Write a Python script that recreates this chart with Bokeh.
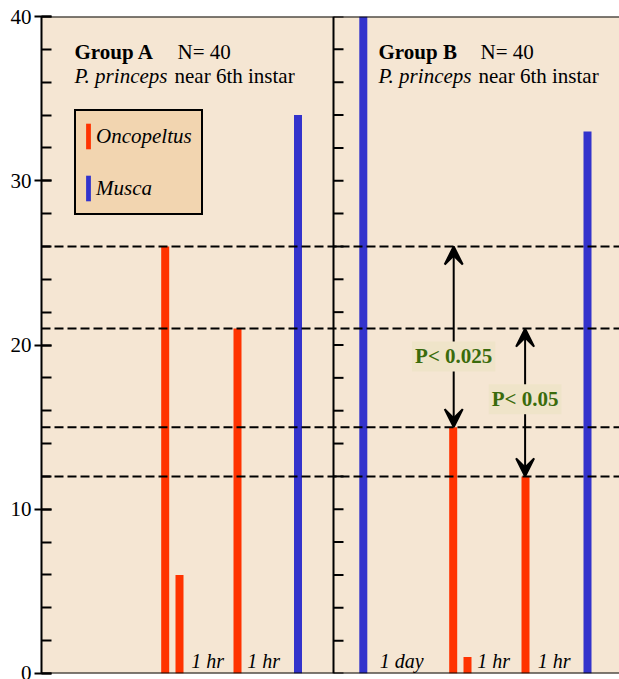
from bokeh.plotting import figure
from bokeh.models import (Range1d, Span, SingleIntervalTicker, Label, Arrow, VeeHead,
                          Legend, LegendItem)
from bokeh.core.properties import value
from bokeh.embed import file_html
from bokeh.resources import INLINE

# ---- data ----
oncopeltus_counts = [26, 6, 21, 15, 1, 12]
musca_counts = [34, 40, 33]
threshold_levels = [26, 21, 15, 12]
p_labels = ["P< 0.025", "P< 0.05"]
p_from = [15, 12]
p_to = [26, 21]
interval_labels = ["1 hr", "1 hr", "1 day", "1 hr", "1 hr"]
group_titles = ["Group A", "Group B"]
group_n = ["N= 40", "N= 40"]
species = ["P. princeps", "P. princeps"]
stage = ["near 6th instar", "near 6th instar"]

# ---- layout positions (horizontal slots, frame units) ----
oncopeltus_x = [123.7, 138, 196, 411.7, 426, 484]
musca_x = [256.5, 321.8, 546]
divider_x = 292
interval_x = [149.7, 205.7, 338.3, 435.7, 496.3]
title_x = [33, 337]
n_x = [136, 439]
stage_x = [133, 437]
p_x = [412.2, 483.6]
p_label_y = [19.3, 16.7]

BG = "#f5e6d3"
RED = "#ff3300"
BLUE = "#3333cc"
SERIF = value("Liberation Serif")

p = figure(width=619, height=679, x_range=Range1d(0, 578), y_range=Range1d(0, 40),
           output_backend="svg", toolbar_location=None,
           min_border_left=41, min_border_right=0, min_border_top=16, min_border_bottom=6,
           background_fill_color=BG, border_fill_color="white", outline_line_color=None)
p.xaxis.visible = False
p.grid.visible = False

ya = p.yaxis[0]
ya.ticker = SingleIntervalTicker(interval=10, num_minor_ticks=5)
ya.axis_line_width = 2
ya.major_tick_line_width = 2
ya.minor_tick_line_width = 2
ya.major_tick_in = 10
ya.major_tick_out = 7
ya.minor_tick_in = 10
ya.minor_tick_out = 0
ya.major_label_standoff = 3
ya.major_label_text_font = "Liberation Serif"
ya.major_label_text_font_size = "21px"
ya.major_label_text_color = "black"

# dashed threshold lines
for lvl in threshold_levels:
    p.add_layout(Span(location=lvl, dimension="width", line_color="black",
                      line_width=2, line_dash="9 4"))
# top & bottom border
p.add_layout(Span(location=40, dimension="width", line_color="black", line_width=2))
p.add_layout(Span(location=0, dimension="width", line_color="black", line_width=2))

# bars
red = p.vbar(x=oncopeltus_x, top=oncopeltus_counts, bottom=0, width=8,
             fill_color=RED, line_color=None)
blue = p.vbar(x=musca_x, top=musca_counts, bottom=0, width=8,
              fill_color=BLUE, line_color=None)

# middle divider axis with ticks
tick_vals = list(range(0, 41, 2))
p.segment(x0=[divider_x], y0=[0], x1=[divider_x], y1=[40], line_color="black", line_width=2)
p.segment(x0=[divider_x] * len(tick_vals), y0=tick_vals,
          x1=[divider_x + 10] * len(tick_vals), y1=tick_vals,
          line_color="black", line_width=2)

# group titles
p.text(x=title_x, y=[37.83] * 2, text=group_titles, text_font=SERIF,
       text_font_style="bold", text_font_size="21px", text_baseline="alphabetic",
       text_color="black")
p.text(x=n_x, y=[37.83] * 2, text=group_n, text_font=SERIF,
       text_font_size="21px", text_baseline="alphabetic", text_color="black")
p.text(x=title_x, y=[36.35] * 2, text=species, text_font=SERIF,
       text_font_style="italic", text_font_size="21px", text_baseline="alphabetic",
       text_color="black")
p.text(x=stage_x, y=[36.35] * 2, text=stage, text_font=SERIF,
       text_font_size="21px", text_baseline="alphabetic", text_color="black")

# interval labels
p.text(x=interval_x, y=[0.75] * len(interval_x), text=interval_labels, text_font=SERIF,
       text_font_style="italic", text_font_size="20px", text_baseline="alphabetic",
       text_color="black")

# significance arrows
for xa, y0, y1 in zip(p_x, p_from, p_to):
    p.add_layout(Arrow(x_start=xa, y_start=y0, x_end=xa, y_end=y1,
                       line_color="black", line_width=2,
                       start=VeeHead(size=18, fill_color="black", line_color="black",
                                     line_width=2),
                       end=VeeHead(size=18, fill_color="black", line_color="black",
                                   line_width=2)))
for xl, yl, t in zip(p_x, p_label_y, p_labels):
    p.add_layout(Label(x=xl, y=yl, text=t, text_align="center", text_baseline="middle",
                       text_font="Liberation Serif", text_font_style="bold",
                       text_font_size="21px", text_color="#3a6b0c",
                       background_fill_color="#efe4c9", padding=3))

legend = Legend(items=[LegendItem(label="Oncopeltus", renderers=[red]),
                       LegendItem(label="Musca", renderers=[blue])],
                location=(33, 458), glyph_width=6, glyph_height=32, spacing=20,
                padding=9, margin=0, label_standoff=5,
                label_text_font="Liberation Serif", label_text_font_style="italic",
                label_text_font_size="21px", label_text_color="black",
                background_fill_color="#f2d5b0", background_fill_alpha=1,
                border_line_color="black", border_line_width=2, border_line_alpha=1)
p.add_layout(legend, "center")

open("out.html", "w").write(file_html(p, INLINE))
